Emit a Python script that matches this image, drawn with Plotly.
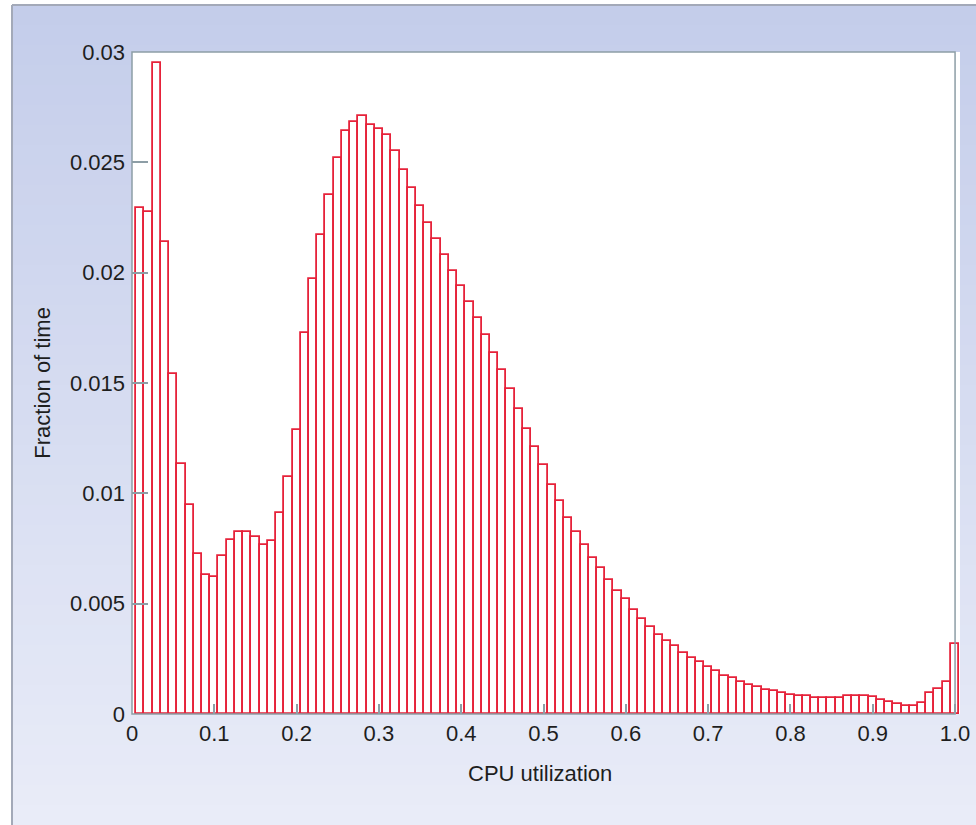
import plotly.graph_objects as go

# ---- data -------------------------------------------------------------
cpu_utilization = [round(0.01 * k, 2) for k in range(1, 101)]  # bin centres 0.01 .. 1.00
fraction_of_time = [
    0.02293, 0.02273, 0.02952, 0.02140, 0.01539, 0.01135, 0.00945, 0.00724, 0.00630, 0.00619,
    0.00716, 0.00788, 0.00824, 0.00824, 0.00804, 0.00767, 0.00783, 0.00909, 0.01072, 0.01289,
    0.01728, 0.01970, 0.02171, 0.02350, 0.02519, 0.02643, 0.02684, 0.02708, 0.02670, 0.02652,
    0.02622, 0.02553, 0.02464, 0.02384, 0.02301, 0.02226, 0.02153, 0.02081, 0.02007, 0.01939,
    0.01867, 0.01793, 0.01717, 0.01634, 0.01558, 0.01471, 0.01380, 0.01292, 0.01212, 0.01129,
    0.01040, 0.00966, 0.00889, 0.00824, 0.00765, 0.00705, 0.00660, 0.00609, 0.00556, 0.00520,
    0.00473, 0.00429, 0.00396, 0.00359, 0.00329, 0.00307, 0.00277, 0.00255, 0.00235, 0.00214,
    0.00195, 0.00173, 0.00161, 0.00145, 0.00130, 0.00122, 0.00110, 0.00103, 0.00096, 0.00087,
    0.00080, 0.00081, 0.00074, 0.00074, 0.00074, 0.00073, 0.00083, 0.00083, 0.00083, 0.00075,
    0.00062, 0.00054, 0.00045, 0.00036, 0.00036, 0.00051, 0.00094, 0.00112, 0.00146, 0.00315,
]
x_tick_vals = [0, 0.1, 0.2, 0.3, 0.4, 0.5, 0.6, 0.7, 0.8, 0.9, 1.0]
x_tick_text = ["0", "0.1", "0.2", "0.3", "0.4", "0.5", "0.6", "0.7", "0.8", "0.9", "1.0"]
y_tick_vals = [0, 0.005, 0.01, 0.015, 0.02, 0.025, 0.03]
y_tick_text = ["0", "0.005", "0.01", "0.015", "0.02", "0.025", "0.03"]
x_title = "CPU utilization"
y_title = "Fraction of time"

# ---- geometry ---------------------------------------------------------
W, H = 976, 825
ML, MR, MT, MB = 132, 16, 52, 111
PW, PH = W - ML - MR, H - MT - MB
X_MAX = 1.006


def px(xp):
    return (xp - ML) / PW


def py(yp):
    return (H - MB - yp) / PH


AXIS_COL = "#8d9ea6"
BAR_COL = "#e6223a"
TEXT_COL = "#1e1e1e"

fig = go.Figure()
fig.add_trace(go.Bar(
    x=cpu_utilization, y=fraction_of_time, width=0.01,
    marker=dict(color="white", line=dict(color=BAR_COL, width=1.8)),
    hoverinfo="x+y",
))

shapes = []
# background gradient (paper), top -> bottom
c0 = (196, 205, 234)
c1 = (233, 236, 248)
N = 41
top, bot = 5, H
for i in range(N):
    y0p = top + (bot - top) * i / N
    y1p = top + (bot - top) * (i + 1) / N
    t = (i + 0.5) / N
    col = "rgb(%d,%d,%d)" % tuple(round(a + (b - a) * t) for a, b in zip(c0, c1))
    shapes.append(dict(type="rect", xref="paper", yref="paper", layer="below",
                       x0=px(12), x1=px(W + 2), y0=py(y1p + 0.5), y1=py(y0p),
                       fillcolor=col, line=dict(width=0)))
# white plot area
shapes.append(dict(type="rect", xref="paper", yref="paper", layer="below",
                   x0=0, x1=1, y0=0, y1=1, fillcolor="white", line=dict(width=0)))
# outer frame lines
shapes.append(dict(type="line", xref="paper", yref="paper", layer="above",
                   x0=px(12), x1=px(W + 2), y0=py(5), y1=py(5),
                   line=dict(color="#a3a9b8", width=2)))
shapes.append(dict(type="line", xref="paper", yref="paper", layer="above",
                   x0=px(12), x1=px(12), y0=py(5), y1=py(H + 2),
                   line=dict(color="#a3a9b8", width=2)))
# plot frame 0..1 x 0..0.03
shapes.append(dict(type="rect", xref="paper", yref="paper", layer="above",
                   x0=0, x1=1.0 / X_MAX, y0=0, y1=1,
                   line=dict(color=AXIS_COL, width=1.5), fillcolor="rgba(0,0,0,0)"))

fig.update_layout(
    width=W, height=H, autosize=False,
    margin=dict(l=ML, r=MR, t=MT, b=MB, pad=0),
    paper_bgcolor="white", plot_bgcolor="white",
    showlegend=False, bargap=0,
    shapes=shapes,
    font=dict(family="Liberation Sans, Arial, sans-serif", size=22, color=TEXT_COL),
    xaxis=dict(range=[0, X_MAX], tickvals=x_tick_vals, ticktext=x_tick_text,
               ticks="inside", ticklen=10, tickwidth=1.5, tickcolor=AXIS_COL,
               showgrid=False, zeroline=False, showline=False, automargin=False,
               ticklabelstandoff=4, fixedrange=True),
    yaxis=dict(range=[0, 0.03], tickvals=y_tick_vals, ticktext=y_tick_text,
               ticks="inside", ticklen=16, tickwidth=1.5, tickcolor=AXIS_COL,
               showgrid=False, zeroline=False, showline=False, automargin=False,
               ticklabelstandoff=6, fixedrange=True),
    annotations=[
        dict(text=x_title, xref="paper", yref="paper", x=px(539.5), y=py(773),
             xanchor="center", yanchor="middle", showarrow=False,
             font=dict(family="Liberation Sans, Arial, sans-serif", size=22, color=TEXT_COL)),
        dict(text=y_title, xref="paper", yref="paper", x=px(41.7), y=py(383),
             xanchor="center", yanchor="middle", showarrow=False, textangle=-90,
             font=dict(family="Liberation Sans, Arial, sans-serif", size=22, color=TEXT_COL)),
    ],
)

fig.write_html(
    "out.html",
    config=dict(displayModeBar=False, responsive=False),
    post_script="document.body.style.margin='0';document.body.style.overflow='hidden';",
)
